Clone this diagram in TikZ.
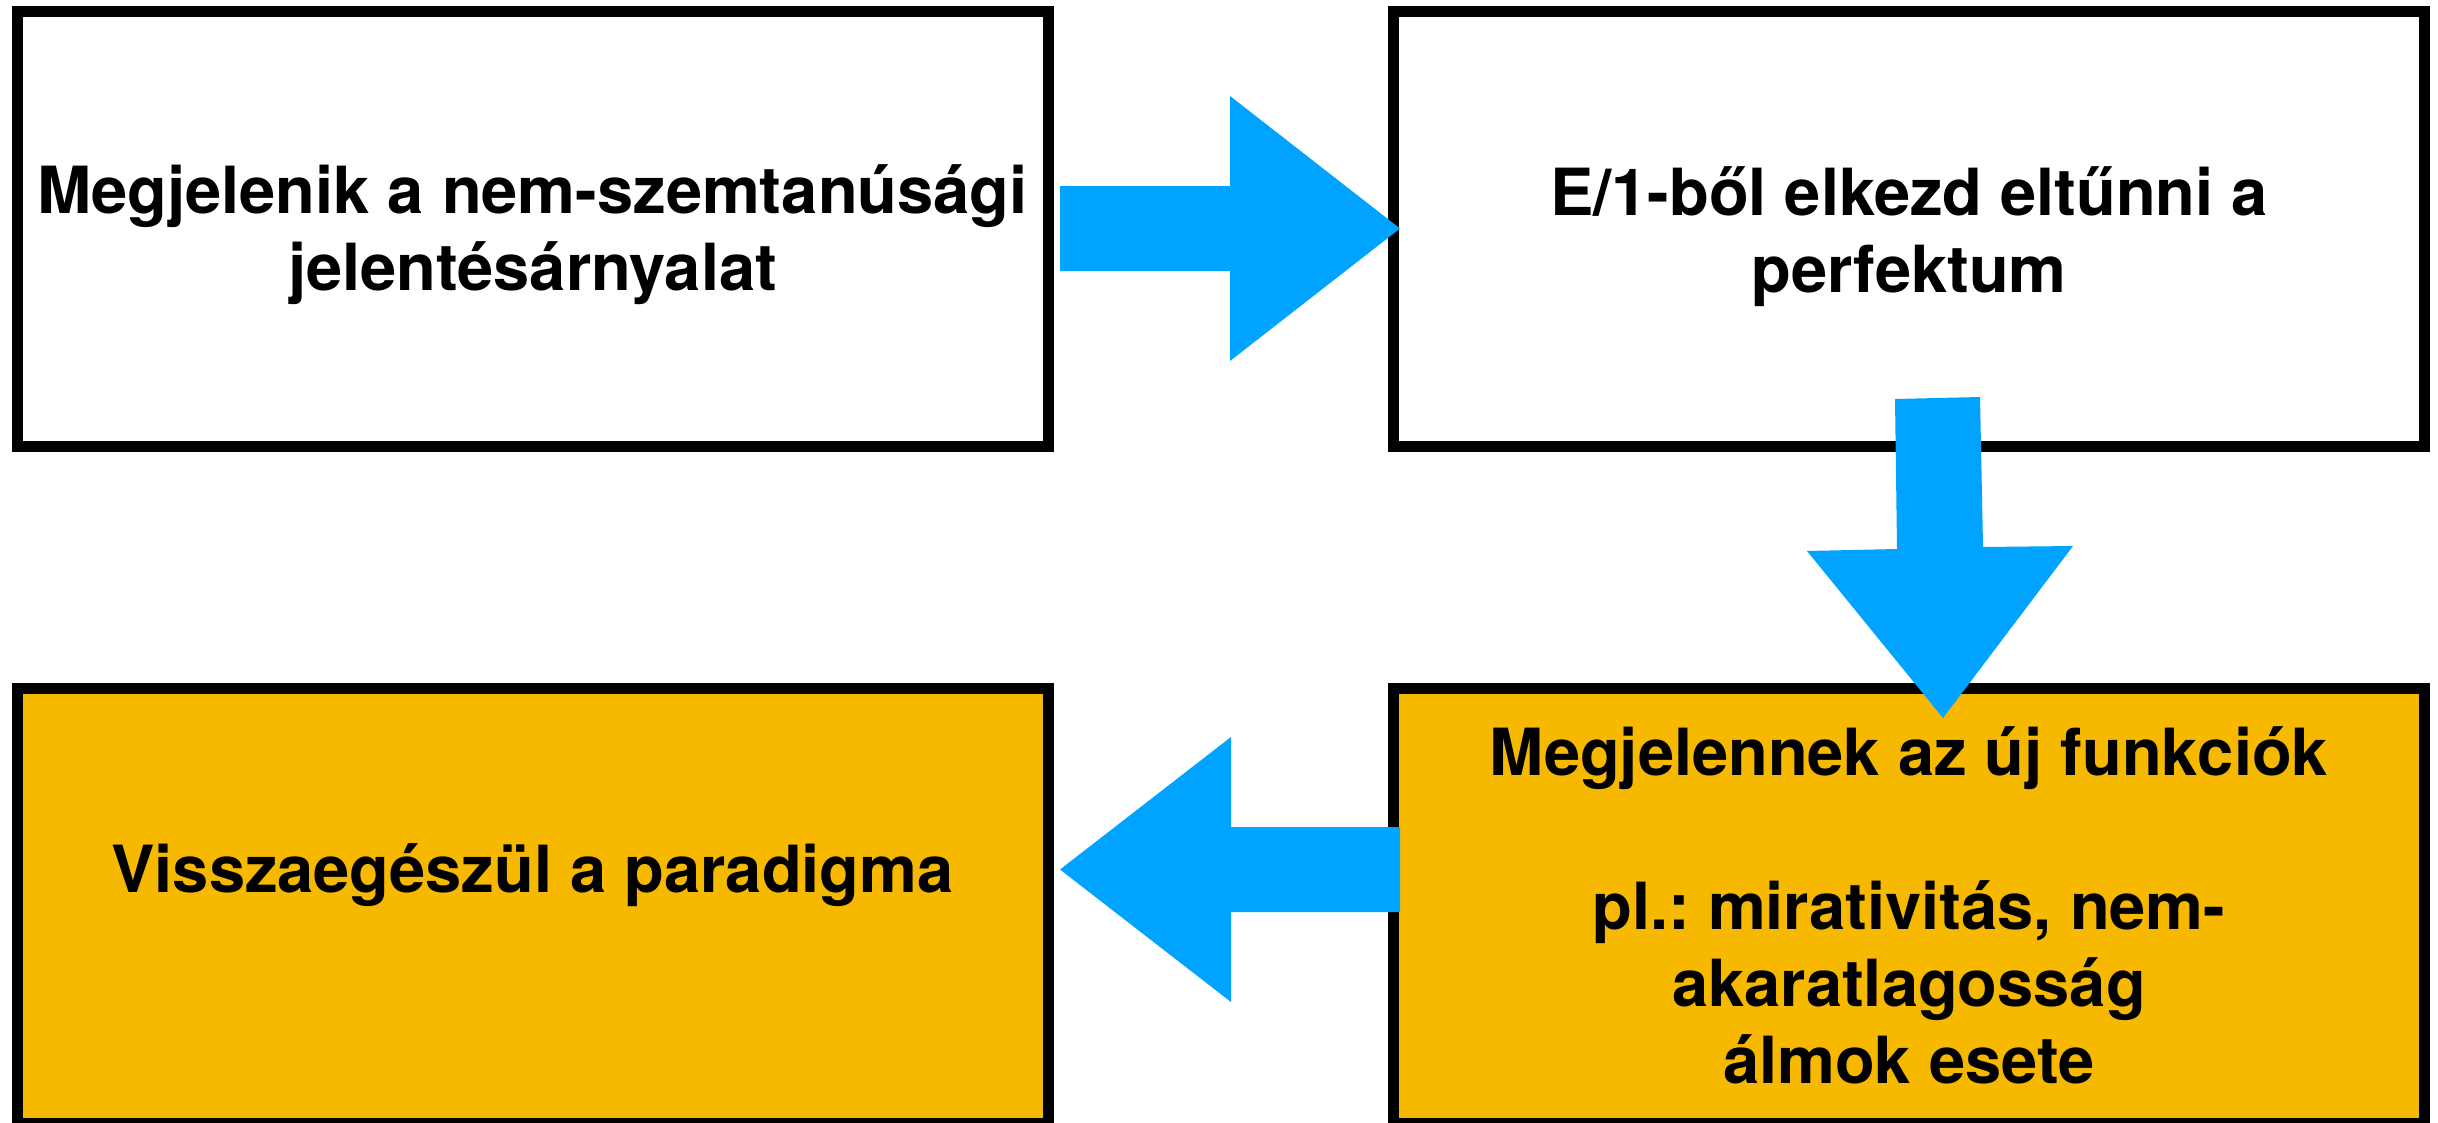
\documentclass[tikz,border=0pt]{standalone}
\usepackage{fontspec}
\setmainfont{TeX Gyre Heros}
\frenchspacing
\definecolor{boxorange}{HTML}{F6B900}
\definecolor{arrowblue}{HTML}{00A3FF}
\begin{document}
\begin{tikzpicture}[x=1pt,y=-1pt,
  box/.style={draw=black,line width=11pt,minimum width=1031pt,minimum height=435pt,inner sep=0pt,outer sep=0pt},
  lbl/.style={align=center,anchor=base,inner sep=0pt,font=\fontsize{65}{77}\selectfont\bfseries},
  blockarrow/.style={fill=arrowblue,draw=none}]
\useasboundingbox[fill=white] (0,0) rectangle (2438,1122);
% boxes
\node[box,fill=white] (tl) at (532.5,228.5) {};
\node[box,fill=white] (tr) at (1909,228.5) {};
\node[box,fill=boxorange] (bl) at (532.5,905.5) {};
\node[box,fill=boxorange] (br) at (1909,905.5) {};
% block arrows
\fill[blockarrow] (1060,186) -- (1230,186) -- (1230,96) -- (1400,228.5) -- (1230,361) -- (1230,271) -- (1060,271) -- cycle;
\fill[blockarrow] (1895,399) -- (1980,397) -- (1983,547) -- (2073,546) -- (1943,718) -- (1807,551) -- (1897,549) -- cycle;
\fill[blockarrow] (1400,827) -- (1231,827) -- (1231,737) -- (1060,869.5) -- (1231,1002) -- (1231,912) -- (1400,912) -- cycle;
% texts (base anchor = baseline of the last line)
\node[lbl] (t1) at (532.5,290) {Megjelenik a nem-szemtanúsági\\jelentésárnyalat};
\node[lbl] (t2) at (1909,292) {E/1-ből elkezd eltűnni a\\perfektum};
\node[lbl] (t3) at (1909,1083) {Megjelennek az új funkciók\\\mbox{}\\pl.: mirativitás, nem-\\akaratlagosság\\álmok esete};
\node[lbl] (t4) at (532.5,892) {Visszaegészül a paradigma};
\end{tikzpicture}
\end{document}
